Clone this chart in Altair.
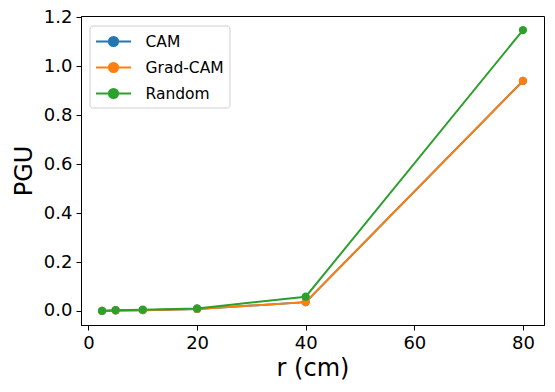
import altair as alt
import pandas as pd

r_vals = [2.5, 5, 10, 20, 40, 80]
cam = [0.0, 0.002, 0.003, 0.008, 0.036, 0.94]
gradcam = [0.0, 0.002, 0.003, 0.008, 0.036, 0.94]
random_vals = [0.0, 0.003, 0.005, 0.010, 0.058, 1.148]
methods = ["CAM", "Grad-CAM", "Random"]
colors = ["#1f77b4", "#ff7f0e", "#2ca02c"]

rows = []
for i, (m, vals) in enumerate(zip(methods, [cam, gradcam, random_vals])):
    for r, v in zip(r_vals, vals):
        rows.append({"r": r, "PGU": v, "method": m, "ord": i})
df = pd.DataFrame(rows)

font = "DejaVu Sans"
sym = "M-1.75,0H1.75M0.46,0A0.46,0.46,0,1,1,-0.46,0A0.46,0.46,0,1,1,0.46,0Z"

x = alt.X("r:Q", scale=alt.Scale(domain=[-1.375, 83.875], nice=False, zero=False),
          axis=alt.Axis(values=[0, 20, 40, 60, 80], title="r (cm)"))
y = alt.Y("PGU:Q", scale=alt.Scale(domain=[-0.0575, 1.2055], nice=False, zero=False),
          axis=alt.Axis(values=[0, 0.2, 0.4, 0.6, 0.8, 1.0, 1.2], format=".1f", title="PGU"))
color = alt.Color("method:N", scale=alt.Scale(domain=methods, range=colors),
                  legend=alt.Legend(title=None, orient="none", legendX=8.5, legendY=9.5,
                                    symbolType=sym, symbolSize=400, symbolStrokeWidth=2,
                                    symbolOpacity=1, labelFontSize=15.5, labelFont=font,
                                    labelColor="black",
                                    rowPadding=6, padding=5, symbolOffset=8, labelOffset=21,
                                    strokeColor="#d0d0d0", fillColor="white", cornerRadius=3))

base = alt.Chart(df)
lines = base.mark_line(strokeWidth=2).encode(x=x, y=y, color=color, order="r:Q", detail="method:N")
points = base.mark_circle(size=68, opacity=1).encode(x=x, y=y, color=color)

chart = alt.layer(lines, points).properties(
    width=463, height=309,
    autosize=alt.AutoSizeParams(type="none"),
    padding={"left": 73, "top": 8, "right": 3, "bottom": 59},
).configure_view(stroke="black", strokeWidth=1).configure_axis(
    grid=False, domainColor="black", tickColor="black", tickSize=5, labelFontSize=18,
    labelFont=font, titleFont=font, titleFontSize=24, titleFontWeight="normal",
    labelColor="black", titleColor="black", labelPadding=4,
).configure_axisX(titlePadding=4).configure_axisY(titlePadding=7)

chart.save("out.html", embed_options={"renderer": "svg", "actions": False})
